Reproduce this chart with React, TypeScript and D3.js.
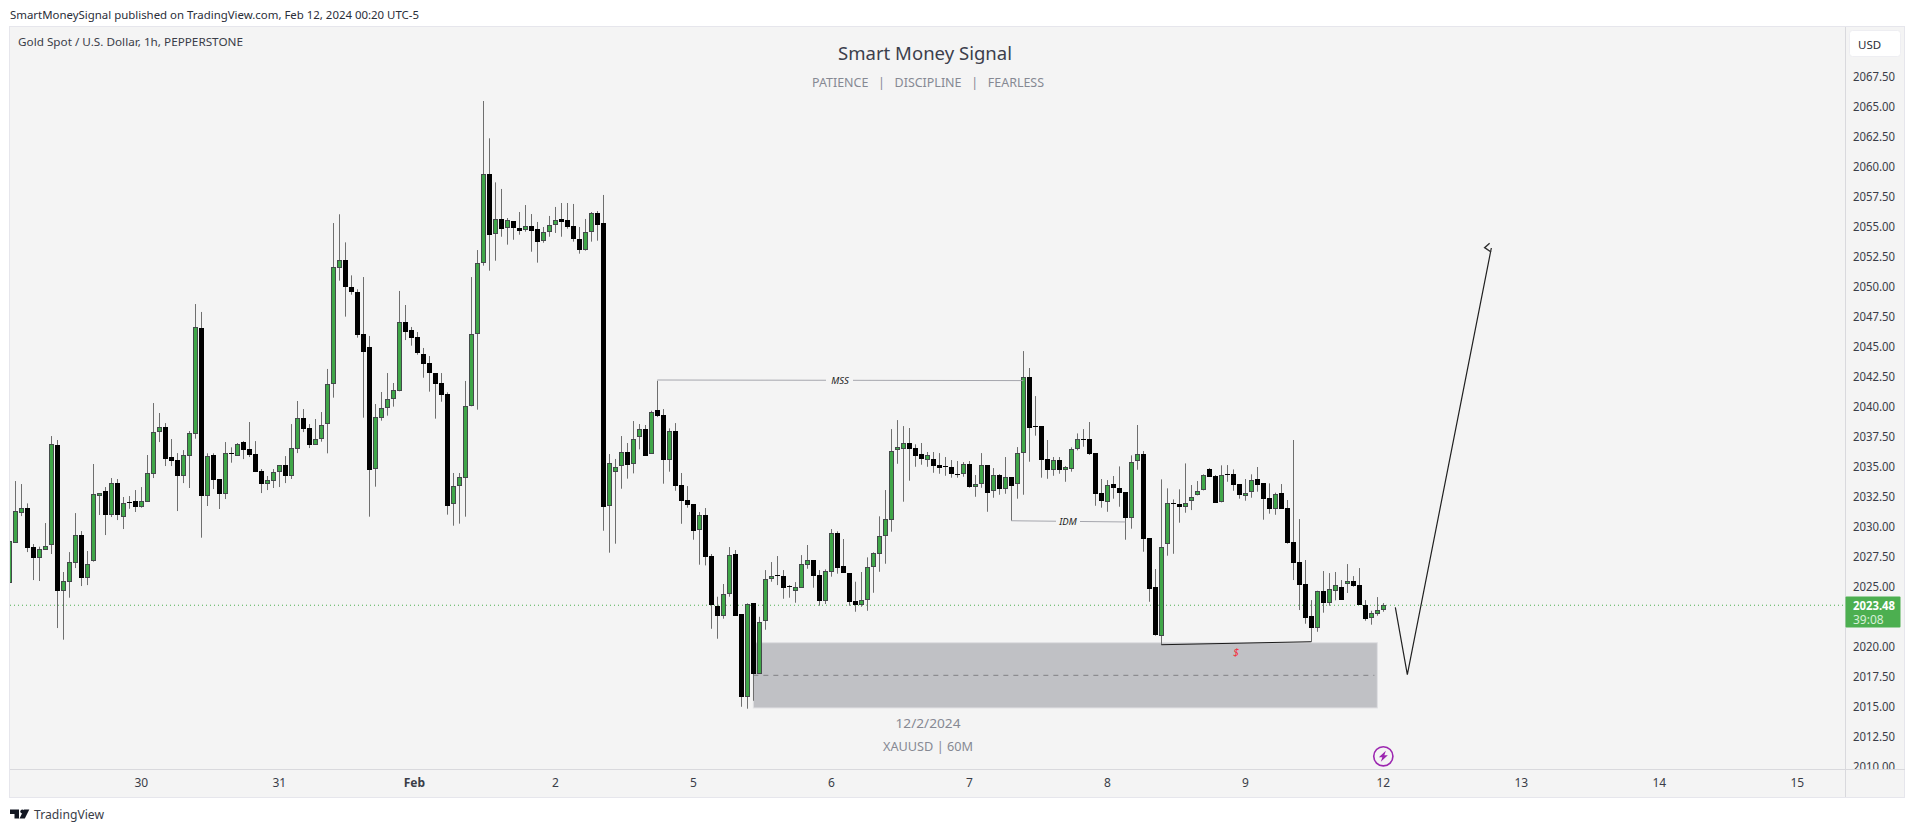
import React from "react";
import * as d3 from "d3";

// ---------- values ----------
const opens = [
  2025.36,2028.69,2031.19,2031.55,2028.30,2027.44,2028.11,2028.52,2036.83,2024.69,
  2025.39,2027.02,2029.33,2025.77,2027.19,2032.61,2033.00,2031.02,2033.66,2030.86,
  2032.05,2032.16,2031.69,2032.11,2034.44,2037.94,2038.33,2035.83,2035.58,2034.27,
  2035.94,2037.77,2046.59,2032.61,2036.00,2034.00,2032.77,2036.14,2035.94,2037.08,
  2036.50,2036.08,2034.66,2033.61,2033.86,2034.61,2035.16,2034.27,2036.52,2039.08,
  2038.25,2036.86,2037.31,2038.56,2041.89,2051.56,2052.22,2050.00,2049.56,2046.06,
  2044.97,2034.81,2039.11,2039.89,2040.64,2041.31,2047.06,2046.39,2045.81,2044.39,
  2043.64,2042.81,2041.97,2041.06,2031.89,2033.39,2034.06,2040.06,2046.06,2051.97,
  2059.39,2054.39,2055.64,2054.89,2055.47,2054.89,2054.72,2055.06,2054.81,2053.81,
  2054.56,2055.14,2055.64,2055.56,2055.06,2053.97,2053.11,2054.61,2056.14,2055.31,
  2031.72,2034.56,2035.06,2036.22,2035.22,2037.47,2038.14,2036.11,2039.72,2039.30,
  2035.61,2037.97,2033.47,2032.22,2031.89,2029.77,2030.97,2027.55,2023.41,2022.61,
  2024.44,2027.72,2022.72,2015.86,2023.64,2017.77,2022.19,2025.64,2025.97,2025.89,
  2025.05,2024.69,2024.94,2026.86,2027.22,2025.97,2023.86,2026.27,2029.47,2026.72,
  2026.14,2023.83,2023.52,2023.94,2026.69,2027.72,2029.22,2030.61,2036.39,2036.47,
  2036.97,2036.58,2036.05,2035.61,2035.64,2035.14,2035.05,2034.97,2034.39,2034.39,
  2035.25,2033.30,2033.55,2035.14,2032.97,2034.33,2033.14,2034.16,2033.55,2036.14,
  2042.50,2038.39,2038.41,2035.66,2034.77,2035.55,2034.72,2034.80,2036.47,2037.30,
  2037.33,2036.14,2032.80,2032.05,2033.55,2033.22,2032.89,2030.77,2035.52,2036.05,
  2029.05,2024.97,2020.89,2028.55,2031.97,2031.91,2031.64,2032.14,2032.64,2033.05,
  2034.80,2034.25,2032.05,2034.39,2034.41,2033.55,2032.61,2032.89,2033.97,2033.64,
  2032.39,2031.52,2032.80,2031.55,2028.72,2027.05,2025.22,2022.55,2021.55,2024.64,
  2023.64,2024.69,2024.97,2025.22,2025.47,2025.14,2023.47,2022.39,2022.77,2023.11,
];
const highs = [
  2028.80,2033.83,2033.58,2031.97,2028.58,2028.36,2030.33,2037.58,2037.25,2026.25,
  2027.91,2031.16,2029.66,2028.00,2035.25,2032.80,2033.33,2034.08,2034.00,2032.50,
  2032.58,2033.08,2033.33,2036.00,2040.33,2039.50,2038.66,2037.33,2036.16,2036.41,
  2038.00,2048.58,2047.92,2036.14,2036.14,2034.00,2037.08,2036.64,2037.00,2037.16,
  2038.75,2037.16,2034.83,2034.25,2034.83,2035.14,2035.91,2038.58,2040.50,2039.83,
  2038.58,2039.00,2039.58,2043.17,2055.33,2056.06,2053.72,2050.97,2049.81,2050.83,
  2045.92,2040.25,2041.25,2042.83,2042.00,2049.67,2048.50,2046.67,2046.25,2044.92,
  2044.25,2042.81,2042.83,2041.22,2034.50,2034.50,2042.17,2050.83,2053.08,2065.50,
  2062.39,2058.72,2058.17,2055.75,2055.47,2056.25,2056.83,2056.08,2055.42,2055.00,
  2055.92,2056.67,2057.00,2057.00,2056.92,2055.00,2055.67,2056.25,2056.33,2057.67,
  2036.08,2035.67,2037.58,2037.00,2038.83,2038.58,2038.50,2039.69,2042.19,2039.83,
  2038.22,2038.66,2034.50,2033.41,2031.89,2031.25,2031.58,2027.75,2024.19,2025.25,
  2028.33,2028.08,2022.72,2023.64,2023.64,2022.52,2026.41,2027.08,2027.58,2026.41,
  2025.16,2025.41,2027.66,2028.50,2027.22,2026.41,2026.47,2029.83,2029.64,2029.00,
  2026.14,2025.44,2026.25,2027.47,2027.89,2030.89,2033.08,2038.16,2038.91,2038.41,
  2038.25,2036.89,2037.00,2036.25,2036.25,2036.16,2035.83,2035.58,2035.50,2035.41,
  2035.50,2034.33,2036.16,2035.14,2034.91,2034.41,2035.83,2034.16,2036.66,2044.66,
  2043.25,2040.91,2038.41,2037.25,2035.83,2035.83,2035.08,2036.64,2037.80,2038.16,
  2038.75,2036.14,2034.00,2033.91,2034.25,2035.05,2032.89,2035.97,2038.50,2036.33,
  2029.05,2026.50,2033.97,2033.22,2032.30,2033.14,2035.30,2033.50,2033.83,2034.39,
  2034.91,2034.33,2035.14,2035.16,2034.80,2033.55,2034.00,2034.39,2035.00,2033.64,
  2033.64,2032.86,2033.58,2032.25,2037.25,2030.66,2027.25,2023.91,2024.69,2026.33,
  2026.16,2026.25,2025.58,2026.91,2025.91,2026.58,2023.91,2023.02,2024.16,2023.66,
];
const lows = [
  2025.36,2028.69,2030.91,2027.91,2025.58,2025.50,2028.11,2027.75,2021.58,2020.61,
  2024.11,2026.58,2025.08,2025.16,2027.11,2031.00,2029.33,2030.83,2030.58,2029.83,
  2031.52,2031.25,2031.61,2032.11,2034.08,2037.08,2035.08,2035.08,2031.33,2033.66,
  2033.25,2037.36,2029.11,2031.75,2033.16,2031.50,2032.33,2035.36,2035.94,2035.66,
  2035.83,2034.58,2032.83,2033.08,2033.25,2033.33,2033.66,2034.00,2036.16,2037.91,
  2036.58,2036.86,2037.11,2036.14,2040.78,2050.53,2047.53,2049.36,2045.78,2039.11,
  2030.86,2033.36,2038.86,2039.28,2040.03,2041.31,2045.58,2045.11,2044.36,2042.44,
  2041.28,2039.03,2040.44,2031.03,2030.11,2030.28,2030.86,2040.06,2039.78,2051.78,
  2051.36,2052.19,2054.19,2053.53,2053.94,2054.36,2054.61,2052.94,2052.03,2053.69,
  2054.19,2054.50,2054.19,2054.86,2053.78,2052.78,2053.03,2053.78,2053.86,2029.69,
  2027.86,2028.61,2033.19,2034.03,2034.47,2036.47,2035.94,2036.11,2039.16,2033.61,
  2034.61,2033.02,2030.27,2031.61,2028.94,2026.86,2026.80,2021.52,2020.69,2022.36,
  2024.19,2022.61,2015.02,2014.86,2015.52,2017.77,2021.44,2025.44,2025.16,2024.02,
  2024.11,2023.69,2024.94,2026.52,2024.94,2023.44,2023.58,2025.86,2026.11,2026.19,
  2023.44,2022.94,2023.36,2023.02,2024.52,2026.27,2026.94,2029.61,2035.27,2032.11,
  2033.86,2035.02,2035.19,2035.02,2034.52,2034.44,2034.27,2034.11,2034.11,2034.19,
  2033.27,2032.52,2033.27,2031.27,2032.44,2032.69,2032.77,2030.52,2032.36,2032.69,
  2035.44,2037.61,2034.11,2034.02,2034.27,2034.44,2033.77,2034.61,2036.39,2036.69,
  2036.00,2031.77,2031.61,2031.27,2032.36,2031.69,2028.94,2029.86,2034.77,2027.94,
  2023.77,2020.94,2020.19,2027.61,2027.77,2030.36,2031.19,2031.41,2032.64,2033.05,
  2034.19,2032.02,2032.05,2033.77,2033.02,2032.36,2032.19,2032.44,2032.94,2030.61,
  2031.11,2031.02,2031.52,2028.61,2025.58,2023.08,2021.94,2020.44,2021.27,2022.86,
  2023.44,2023.89,2023.94,2024.50,2025.02,2023.52,2022.19,2021.86,2022.61,2022.94,
];
const closes = [
  2028.80,2031.30,2031.55,2028.27,2027.41,2028.14,2028.39,2036.89,2024.69,2025.47,
  2027.05,2029.30,2025.77,2026.89,2032.72,2032.80,2031.00,2033.64,2031.00,2031.97,
  2032.05,2031.66,2032.14,2034.47,2037.89,2038.30,2035.69,2035.50,2034.25,2035.97,
  2037.80,2046.63,2032.58,2035.89,2033.91,2032.75,2036.14,2036.14,2036.89,2036.41,
  2036.00,2034.58,2033.58,2033.89,2034.55,2035.14,2034.25,2036.55,2039.05,2038.16,
  2036.83,2037.30,2038.53,2041.89,2051.64,2052.22,2050.03,2049.61,2046.00,2044.61,
  2034.78,2039.14,2039.89,2040.64,2041.39,2047.06,2046.28,2045.78,2044.53,2043.61,
  2042.86,2041.94,2041.03,2031.78,2033.39,2034.19,2040.06,2046.06,2051.97,2059.39,
  2054.36,2055.69,2054.86,2055.56,2054.94,2054.69,2055.06,2054.69,2053.78,2054.61,
  2055.14,2055.56,2055.44,2055.03,2054.03,2053.11,2054.61,2056.14,2055.19,2031.69,
  2035.36,2035.03,2036.28,2035.19,2037.36,2038.19,2035.94,2039.55,2039.27,2035.61,
  2037.97,2033.44,2032.19,2031.86,2029.69,2030.97,2027.52,2023.47,2022.61,2024.39,
  2027.64,2022.61,2015.86,2023.61,2017.77,2022.11,2025.64,2025.89,2025.97,2024.94,
  2025.05,2024.97,2026.89,2027.22,2025.94,2023.86,2026.30,2029.47,2026.61,2026.19,
  2023.77,2023.52,2023.89,2026.69,2027.80,2029.22,2030.64,2036.30,2036.64,2036.97,
  2036.52,2035.94,2035.69,2035.97,2035.11,2034.94,2035.05,2034.44,2034.39,2035.22,
  2033.36,2033.55,2035.14,2032.86,2034.36,2033.19,2034.14,2033.44,2036.14,2042.47,
  2038.27,2038.39,2035.61,2034.77,2035.55,2034.77,2034.97,2036.47,2037.30,2037.30,
  2036.11,2032.77,2032.19,2033.47,2033.27,2032.86,2030.77,2035.39,2036.05,2029.02,
  2024.86,2021.00,2028.30,2031.97,2031.97,2031.69,2032.02,2032.52,2032.97,2034.30,
  2034.19,2032.02,2034.30,2034.39,2033.52,2032.69,2032.80,2033.89,2033.52,2032.36,
  2031.52,2032.77,2031.52,2028.69,2027.02,2025.19,2022.44,2021.61,2024.69,2023.69,
  2024.80,2025.14,2023.94,2025.47,2025.11,2023.52,2022.36,2022.80,2023.05,2023.48,
];

const priceTicks = [2067.5,2065,2062.5,2060,2057.5,2055,2052.5,2050,2047.5,2045,2042.5,2040,2037.5,2035,2032.5,2030,2027.5,2025,2020,2017.5,2015,2012.5,2010];
const dayBars = [22,45,67.5,91,114,137,160,183,206,229,252,275,298];
const dayLabels = ["30","31","Feb","2","5","6","7","8","9","12","13","14","15"];
const lastPrice = 2023.48;
const countdown = "39:08";

const zoneBars = [124, 228];
const zonePrices = [2020.36, 2014.92];
const zoneMid = 2017.64;
const mssLine = { bars: [108, 169], prices: [2042.25, 2042.2] };
const idmLine = { bars: [167, 186], prices: [2030.52, 2030.42] };
const sweepLine = { bars: [192, 217], prices: [2020.19, 2020.44] };
const projectionBars = [231, 233, 247];
const projectionPrices = [2023.31, 2017.69, 2053.25];

const UI = '"Noto Sans", sans-serif';

const W = 1915, H = 832;
const paneL = 10, paneR = 1845.5, paneT = 27, paneB = 769;

const x = d3.scaleLinear().domain([0, 229]).range([9.33, 1383.33]);
const y = d3.scaleLinear().domain([2067.5, 2010]).range([77, 767]);

const projection = d3.line<number>().x((_, i) => x(projectionBars[i])).y((d) => y(d))(projectionPrices) as string;

function Candle({ i }: { i: number }) {
  const c = Math.floor(x(i));
  const o = opens[i], cl = closes[i];
  const top = Math.round(y(Math.max(o, cl)));
  const bot = Math.round(y(Math.min(o, cl)));
  const up = cl > o;
  const wick = <rect x={c} y={y(highs[i])} width={1} height={y(lows[i]) - y(highs[i])} fill="#6f6f6f" />;
  if (o === cl) {
    return <g>{wick}<rect x={c - 2} y={top} width={5} height={1} fill="#000" /></g>;
  }
  if (up) {
    return (
      <g>
        {wick}
        <rect x={c - 1.5} y={top + 0.5} width={4} height={Math.max(bot - top - 1, 1)} fill="#3fa648" stroke="#434a4a" strokeWidth={1} />
      </g>
    );
  }
  return <g>{wick}<rect x={c - 2} y={top} width={5} height={Math.max(bot - top, 1)} fill="#000" /></g>;
}

export default function App() {
  const ly = y(lastPrice);
  return (
    <svg width={W} height={H} style={{ position: "fixed", left: 0, top: 0, background: "#fff" }} fontFamily={UI}>
      <defs>
        <clipPath id="pane"><rect x={paneL} y={paneT} width={paneR - paneL} height={paneB - paneT} /></clipPath>
        <clipPath id="axisClip"><rect x={paneR} y={paneT} width={60} height={paneB - paneT} /></clipPath>
      </defs>

      <text x={10} y={19} fontSize={11.5} textLength={409} lengthAdjust="spacingAndGlyphs" fill="#2a2e39">SmartMoneySignal published on TradingView.com, Feb 12, 2024 00:20 UTC-5</text>

      <rect x={9.5} y={26.5} width={1895} height={771} fill="#f4f4f4" stroke="#e6e6ec" strokeWidth={1} />
      <line x1={paneR} x2={paneR} y1={27} y2={797} stroke="#d9d9dd" />
      <line x1={10} x2={1905} y1={769.5} y2={769.5} stroke="#d9d9dd" />

      <text x={18} y={46} fontSize={11.5} textLength={225} lengthAdjust="spacingAndGlyphs" fill="#3a3d48">Gold Spot / U.S. Dollar, 1h, PEPPERSTONE</text>
      <text x={838} y={60} fontSize={18.5} textLength={174} lengthAdjust="spacingAndGlyphs" fill="#3c3f4c">Smart Money Signal</text>
      <text x={812} y={87} fontSize={13} textLength={232} lengthAdjust="spacingAndGlyphs" fill="#868993" style={{ whiteSpace: "pre" }}>{"PATIENCE   |   DISCIPLINE   |   FEARLESS"}</text>

      <g clipPath="url(#pane)">
        <rect x={x(zoneBars[0])} y={y(zonePrices[0])} width={x(zoneBars[1]) - x(zoneBars[0])} height={y(zonePrices[1]) - y(zonePrices[0])} fill="#c0c1c5" stroke="#e0e0e3" strokeWidth={1} />
        <line x1={x(zoneBars[0])} x2={x(zoneBars[1]) - 3} y1={y(zoneMid)} y2={y(zoneMid)} stroke="#808085" strokeWidth={1} strokeDasharray="5 5" />
        <line x1={paneL} x2={paneR} y1={ly} y2={ly} stroke="#4caf50" strokeWidth={1} strokeDasharray="1 3" />

        {opens.map((_, i) => <Candle key={i} i={i} />)}

        <path d={`M${x(mssLine.bars[0])},${y(mssLine.prices[0])}L${x(mssLine.bars[1])},${y(mssLine.prices[1])}`} stroke="#a5a6ad" fill="none" />
        <rect x={826} y={374} width={27} height={12} fill="#f4f4f4" />
        <text x={840} y={384} textAnchor="middle" fontSize={9.5} fontStyle="italic" fill="#222">MSS</text>

        <path d={`M${x(idmLine.bars[0])},${y(idmLine.prices[0])}L${x(idmLine.bars[1])},${y(idmLine.prices[1])}`} stroke="#a5a6ad" fill="none" />
        <rect x={1056} y={515} width={24} height={13} fill="#f4f4f4" />
        <text x={1068} y={525} textAnchor="middle" fontSize={9.5} fontStyle="italic" fill="#222">IDM</text>

        <path d={`M${x(sweepLine.bars[0])},${y(sweepLine.prices[0])}L${x(sweepLine.bars[1])},${y(sweepLine.prices[1])}`} stroke="#1a1a1a" fill="none" />
        <text x={1236} y={656} textAnchor="middle" fontSize={11} fontStyle="italic" fill="#f23645">$</text>

        <path d={projection} stroke="#202020" strokeWidth={1.2} fill="none" />
        <path d={`M${x(projectionBars[2]) - 1.7},${y(projectionPrices[2]) - 4.7}L${x(projectionBars[2]) - 6.7},${y(projectionPrices[2]) - 0.3}L${x(projectionBars[2]) - 0.3},${y(projectionPrices[2]) + 4}`} stroke="#303030" strokeWidth={1.4} fill="none" />

        <text x={895.5} y={727.5} fontSize={13} textLength={65} lengthAdjust="spacingAndGlyphs" fill="#868993">12/2/2024</text>
        <text x={883} y={751} fontSize={13} textLength={90} lengthAdjust="spacingAndGlyphs" fill="#868993">XAUUSD | 60M</text>

        <g transform={`translate(${x(229)},756.3)`}>
          <circle r={9.6} fill="none" stroke="#9c27b0" strokeWidth={1.6} />
          <path d="M2.5,-5.5 L-4.5,1 L-1,1 L-2.5,5.5 L4.5,-1 L1,-1 Z" fill="#9c27b0" />
        </g>
      </g>

      <rect x={1849.5} y={30.5} width={51} height={26} rx={3} fill="#fff" stroke="#eeeef2" />
      <text x={1858} y={49} fontSize={11.5} fill="#2a2e39">USD</text>

      <g clipPath="url(#axisClip)">
        {priceTicks.map((p) => (
          <text key={p} x={1853} y={y(p) + 4} fontSize={12} textLength={42} lengthAdjust="spacingAndGlyphs" fill="#3a3d48">{p.toFixed(2)}</text>
        ))}
      </g>

      <rect x={1845.5} y={596.5} width={55} height={31} rx={1} fill="#4caf50" />
      <text x={1853} y={ly + 4.5} fontSize={12} fontWeight={700} textLength={42} lengthAdjust="spacingAndGlyphs" fill="#fff">{lastPrice.toFixed(2)}</text>
      <text x={1853} y={ly + 18.5} fontSize={12} fill="#d7f0d8">{countdown}</text>

      {dayBars.map((b, i) => (
        <text key={b} x={x(b)} y={787} textAnchor="middle" fontSize={12} fontWeight={dayLabels[i] === "Feb" ? 700 : 400} fill="#3a3d48">{dayLabels[i]}</text>
      ))}

      <g fill="#131722">
        <path d="M10,809.5 H19 V818.5 H14.5 V814 H10 Z" />
        <circle cx={22.3} cy={811.5} r={2} />
        <path d="M19.5,818.5 L24,809.5 H29.3 L24.8,818.5 Z" />
      </g>
      <text x={34} y={818.5} fontSize={13} textLength={70} lengthAdjust="spacingAndGlyphs" fill="#3a3d48">TradingView</text>
    </svg>
  );
}
